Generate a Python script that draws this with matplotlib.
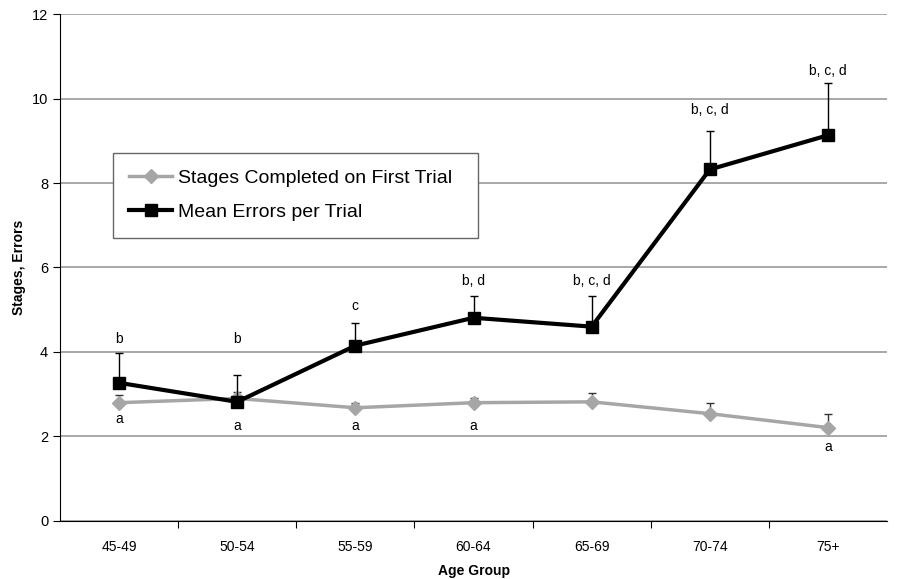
import matplotlib.pyplot as plt

plt.rcParams['font.family'] = ['Liberation Sans', 'DejaVu Sans']

groups = ['45-49', '50-54', '55-59', '60-64', '65-69', '70-74', '75+']

# Stages completed on first trial (grey) and its upper error
stages = [2.80, 2.90, 2.68, 2.80, 2.82, 2.54, 2.21]
stages_err = [0.18, 0.15, 0.12, 0.12, 0.21, 0.26, 0.33]
stages_lab = ['a', 'a', 'a', 'a', '', '', 'a']
stages_lab_y = [2.42, 2.25, 2.25, 2.25, 0, 0, 1.75]

# Mean errors per trial (black) and its upper error
errors = [3.27, 2.82, 4.15, 4.81, 4.60, 8.32, 9.13]
errors_err = [0.71, 0.64, 0.54, 0.52, 0.73, 0.92, 1.23]
errors_lab = ['b', 'b', 'c', 'b, d', 'b, c, d', 'b, c, d', 'b, c, d']
errors_lab_y = [4.3, 4.3, 5.1, 5.68, 5.68, 9.72, 10.65]

x = list(range(len(groups)))

fig = plt.figure(figsize=(8.99, 5.79), dpi=100)
ax = fig.add_axes([0.0667, 0.1002, 0.92, 0.8756])

ax.errorbar(x, stages, yerr=[[0] * len(x), stages_err], fmt='none',
            ecolor='#333333', elinewidth=1, capsize=3, capthick=1, zorder=3)
ax.plot(x, stages, color='#a6a6a6', linewidth=2.5, marker='D', markersize=7,
        label='Stages Completed on First Trial', zorder=4)

ax.errorbar(x, errors, yerr=[[0] * len(x), errors_err], fmt='none',
            ecolor='black', elinewidth=1, capsize=3, capthick=1, zorder=5)
ax.plot(x, errors, color='black', linewidth=3, marker='s', markersize=8,
        label='Mean Errors per Trial', zorder=6)

for i in x:
    ax.text(i, errors_lab_y[i], errors_lab[i], ha='center', va='center', fontsize=10)
    if stages_lab[i]:
        ax.text(i, stages_lab_y[i], stages_lab[i], ha='center', va='center', fontsize=10)

ax.set_xlim(-0.5, 6.5)
ax.set_ylim(0, 12)
ax.set_yticks([0, 2, 4, 6, 8, 10, 12])
ax.set_xticks([i + 0.5 for i in x[:-1]])
ax.set_xticklabels([])
ax.set_xticks(x, minor=True)
ax.set_xticklabels(groups, minor=True)
ax.tick_params(axis='x', which='minor', length=0, pad=14, labelsize=10)
ax.tick_params(axis='x', which='major', length=5, direction='out')
ax.tick_params(axis='y', length=5, labelsize=10.5)
ax.grid(axis='y', color='#999999', linewidth=1.2, zorder=0)
ax.set_axisbelow(True)

ax.spines['top'].set_visible(False)
ax.spines['right'].set_visible(False)

ax.set_xlabel('Age Group', fontweight='bold', fontsize=10, labelpad=7)
ax.set_ylabel('Stages, Errors', fontweight='bold', fontsize=10, labelpad=4)

leg = ax.legend(loc='upper left', bbox_to_anchor=(0.064, 0.558, 0.441, 0.168),
                mode='expand', borderaxespad=0, fancybox=False, edgecolor='#666666',
                fontsize=14, handlelength=2.2, handletextpad=0.3,
                borderpad=0.85, labelspacing=0.85, framealpha=1)
leg.get_frame().set_linewidth(1.0)

fig.savefig('out.png', dpi=100)
